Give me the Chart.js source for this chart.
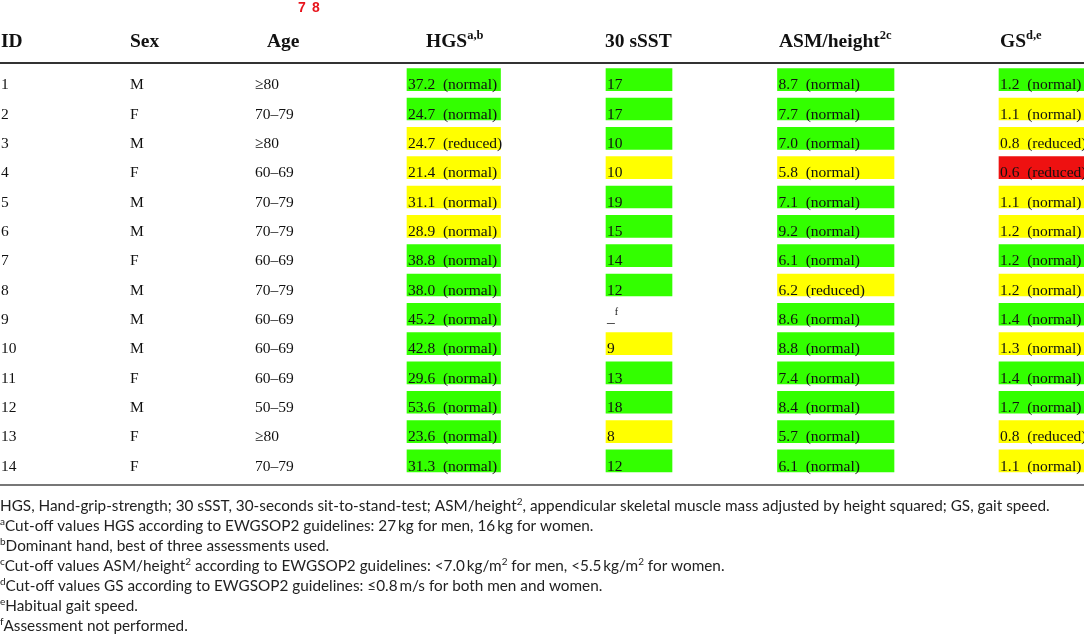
<!DOCTYPE html>
<html>
<head>
<meta charset="utf-8">
<script src="https://cdn.jsdelivr.net/npm/chart.js@4"></script>
<style>
  body { margin: 0; background: #fff; }
  #wrap { width: 1084px; height: 634px; position: relative; }
</style>
</head>
<body>
<div id="wrap"><canvas id="table_chart"></canvas></div>
<script>
// table data, one row per participant
const ids = ['1','2','3','4','5','6','7','8','9','10','11','12','13','14'];
const sexes = ['M','F','M','F','M','M','F','M','M','M','F','M','F','F'];
const ages = ['≥80','70–79','≥80','60–69','70–79','70–79','60–69','70–79','60–69','60–69','60–69','50–59','≥80','70–79'];

const hgsValues = ['37.2','24.7','24.7','21.4','31.1','28.9','38.8','38.0','45.2','42.8','29.6','53.6','23.6','31.3'];
const hgsStatus = ['normal','normal','reduced','normal','normal','normal','normal','normal','normal','normal','normal','normal','normal','normal'];
const hgsFlag = ['g','g','y','y','y','y','g','g','g','g','g','g','g','g'];

const sstValues = ['17','17','10','10','19','15','14','12',null,'9','13','18','8','12'];
const sstFlag = ['g','g','g','y','g','g','g','g',null,'y','g','g','y','g'];

const asmValues = ['8.7','7.7','7.0','5.8','7.1','9.2','6.1','6.2','8.6','8.8','7.4','8.4','5.7','6.1'];
const asmStatus = ['normal','normal','normal','normal','normal','normal','normal','reduced','normal','normal','normal','normal','normal','normal'];
const asmFlag = ['g','g','g','y','g','g','g','y','g','g','g','g','g','g'];

const gsValues = ['1.2','1.1','0.8','0.6','1.1','1.2','1.2','1.2','1.4','1.3','1.4','1.7','0.8','1.1'];
const gsStatus = ['normal','normal','reduced','reduced','normal','normal','normal','normal','normal','normal','normal','normal','reduced','normal'];
const gsFlag = ['g','y','y','r','y','y','g','y','g','y','g','g','y','y'];

const headers = [
  [['ID']], [['Sex']], [['Age']], [['HGS'], ['a,b', 1]],
  [['30 sSST']], [['ASM/height'], ['2c', 1]], [['GS'], ['d,e', 1]]
];

const footnotes = [
  [['HGS, Hand-grip-strength; 30 sSST, 30-seconds sit-to-stand-test; ASM/height'],['2',1],[', appendicular skeletal muscle mass adjusted by height squared; GS, gait speed.']],
  [['a',1],['Cut-off values HGS according to EWGSOP2 guidelines: 27\u2009kg for men, 16\u2009kg for women.']],
  [['b',1],['Dominant hand, best of three assessments used.']],
  [['c',1],['Cut-off values ASM/height'],['2',1],[' according to EWGSOP2 guidelines: <7.0\u2009kg/m'],['2',1],[' for men, <5.5\u2009kg/m'],['2',1],[' for women.']],
  [['d',1],['Cut-off values GS according to EWGSOP2 guidelines: ≤0.8\u2009m/s for both men and women.']],
  [['e',1],['Habitual gait speed.']],
  [['f',1],['Assessment not performed.']]
];

// layout (x in canvas units)
const flagColors = { g: '#33ff00', y: '#ffff00', r: '#ee1111' };
const cols = {
  id: 1, sex: 130, age: 255,
  hgs: [407, 500.5], sst: [606, 672], asm: [777.5, 894], gs: [999, 1090]
};
const headerX = [1, 130, 267, 426, 605, 779, 1000];
const serif = '"Liberation Serif", "DejaVu Serif", serif';
const sans = 'Lato, "Open Sans", sans-serif';
const bodyFont = '15.5px ' + serif;

function cellData(span, values) {
  return values.map(function(v) { return v === null ? null : span; });
}
function cellColors(flags) {
  return flags.map(function(f) { return f ? flagColors[f] : 'rgba(0,0,0,0)'; });
}
function joinStatus(values, status) {
  return values.map(function(v, i) { return v + '  (' + status[i] + ')'; });
}

const hgsText = joinStatus(hgsValues, hgsStatus);
const asmText = joinStatus(asmValues, asmStatus);
const gsText = joinStatus(gsValues, gsStatus);

function drawRich(ctx, parts, x, y, size, weight, family, supSize, supRise) {
  parts.forEach(function(p) {
    if (p[1]) {
      ctx.font = weight + ' ' + supSize + 'px ' + family;
      ctx.fillText(p[0], x, y - supRise);
    } else {
      ctx.font = weight + ' ' + size + 'px ' + family;
      ctx.fillText(p[0], x, y);
    }
    x += ctx.measureText(p[0]).width;
  });
}

const tablePlugin = {
  id: 'tableText',
  afterDatasetsDraw: function(chart) {
    const ctx = chart.ctx;
    const xs = chart.scales.x;
    const ys = chart.scales.y;
    ctx.save();
    ctx.textBaseline = 'alphabetic';
    ctx.textAlign = 'left';

    // page marker
    ctx.fillStyle = '#e8141c';
    ctx.font = 'bold 14px "Liberation Sans", Arial, sans-serif';
    ctx.fillText('7', 298, 12);
    ctx.fillText('8', 312, 12);

    // header
    ctx.fillStyle = '#111';
    headers.forEach(function(parts, k) {
      drawRich(ctx, parts, xs.getPixelForValue(headerX[k]), 47, 19.5, 'bold', serif, 12.5, 8);
    });

    // rules
    ctx.strokeStyle = '#333';
    ctx.lineWidth = 2;
    ctx.beginPath();
    ctx.moveTo(0, ys.top - 2); ctx.lineTo(chart.width, ys.top - 2);
    ctx.stroke();
    ctx.strokeStyle = '#777';
    ctx.beginPath();
    ctx.moveTo(0, ys.bottom + 9.5); ctx.lineTo(chart.width, ys.bottom + 9.5);
    ctx.stroke();

    // body rows
    ctx.fillStyle = '#111';
    ids.forEach(function(id, i) {
      const by = ys.getPixelForValue(i) + 9.7;
      ctx.font = bodyFont;
      ctx.fillText(id, xs.getPixelForValue(cols.id), by);
      ctx.fillText(sexes[i], xs.getPixelForValue(cols.sex), by);
      ctx.fillText(ages[i], xs.getPixelForValue(cols.age), by);
      ctx.fillText(hgsText[i], xs.getPixelForValue(cols.hgs[0]) + 1, by);
      if (sstValues[i] === null) {
        drawRich(ctx, [['_'], ['f', 1]], xs.getPixelForValue(cols.sst[0]) + 1, by - 2, 15.5, 'normal', serif, 10, 7);
        ctx.font = bodyFont;
      } else {
        ctx.fillText(sstValues[i], xs.getPixelForValue(cols.sst[0]) + 1, by);
      }
      ctx.fillText(asmText[i], xs.getPixelForValue(cols.asm[0]) + 1, by);
      ctx.fillText(gsText[i], xs.getPixelForValue(cols.gs[0]) + 1, by);
    });

    // footnotes
    ctx.fillStyle = '#222';
    footnotes.forEach(function(parts, k) {
      drawRich(ctx, parts, 0, ys.bottom + 35.5 + k * 20, 15.3, 'normal', sans, 10, 6);
    });
    ctx.restore();
  }
};

const table_chart = document.querySelector('#table_chart').getContext('2d');

let chart1 = new Chart(table_chart, {
  type: 'bar',
  data: {
    labels: ids,
    datasets: [
      { label: 'HGS', data: cellData(cols.hgs, hgsValues), backgroundColor: cellColors(hgsFlag) },
      { label: '30 sSST', data: cellData(cols.sst, sstValues), backgroundColor: cellColors(sstFlag) },
      { label: 'ASM/height', data: cellData(cols.asm, asmValues), backgroundColor: cellColors(asmFlag) },
      { label: 'GS', data: cellData(cols.gs, gsValues), backgroundColor: cellColors(gsFlag) }
    ]
  },
  options: {
    indexAxis: 'y',
    responsive: true,
    maintainAspectRatio: false,
    animation: false,
    layout: { padding: { top: 65, bottom: 158.4, left: 0, right: 0 } },
    datasets: { bar: { barThickness: 22, grouped: false, borderWidth: 0, borderSkipped: false } },
    plugins: {
      legend: { display: false },
      tooltip: { enabled: false }
    },
    scales: {
      x: { type: 'linear', min: 0, max: 1084, display: false },
      y: { display: false }
    }
  },
  plugins: [tablePlugin]
});
</script>
</body>
</html>
